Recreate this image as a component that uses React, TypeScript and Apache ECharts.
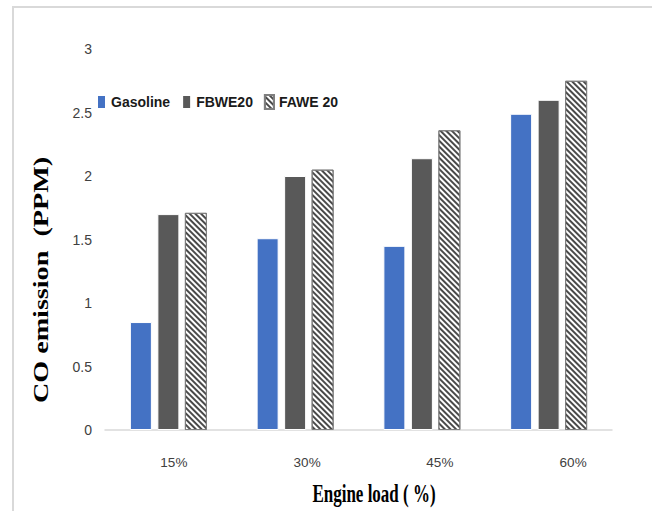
import React, { useEffect, useRef } from "react";
import * as echarts from "echarts";

const categories = ["15%", "30%", "45%", "60%"];
const gasoline = [0.85, 1.51, 1.45, 2.49];
const fbwe20 = [1.7, 2.0, 2.14, 2.6];
const fawe20 = [1.71, 2.05, 2.36, 2.75];
const seriesNames = ["Gasoline", "FBWE20", "FAWE 20"];
const yTicks = { min: 0, max: 3, interval: 0.5 };

const labelShift = [11, 24, 36, 49];

export default function App() {
  const ref = useRef<HTMLDivElement>(null);
  useEffect(() => {
    document.body.style.margin = "0";
    const chart = echarts.init(ref.current!, null, { renderer: "svg" });
    const tickFont = "'Liberation Sans', Arial, sans-serif";
    const rich: any = {};
    labelShift.forEach((p, i) => {
      rich["c" + i] = {
        padding: [0, 0, 0, p],
        fontFamily: tickFont,
        fontSize: 13.5,
        color: "#404040",
      };
    });
    chart.setOption({
      animation: false,
      backgroundColor: "#fff",
      grid: { left: 105, right: 40, top: 49, bottom: 81 },
      legend: {
        left: 91,
        top: 89,
        icon: "rect",
        itemWidth: 9,
        itemHeight: 14,
        itemGap: 11,
        textStyle: {
          fontFamily: tickFont,
          fontSize: 14,
          fontWeight: "bold",
          color: "#1a1a1a",
        },
        data: seriesNames,
      },
      xAxis: {
        type: "category",
        data: categories,
        axisLine: { lineStyle: { color: "#d9d9d9", width: 1.5 } },
        axisTick: { show: false },
        axisLabel: {
          margin: 25,
          fontFamily: tickFont,
          fontSize: 13.5,
          color: "#404040",
          formatter: (v: string, i: number) => `{c${i}|${v}}`,
          rich,
        },
      },
      yAxis: {
        type: "value",
        min: yTicks.min,
        max: yTicks.max,
        interval: yTicks.interval,
        axisLine: { show: false },
        axisTick: { show: false },
        splitLine: { show: false },
        axisLabel: {
          margin: 13,
          fontFamily: tickFont,
          fontSize: 14,
          color: "#404040",
        },
      },
      series: [
        {
          name: seriesNames[0],
          type: "bar",
          data: gasoline,
          barWidth: 22,
          barGap: "25%",
          itemStyle: { color: "#4472C4", borderColor: "#ffffff", borderWidth: 1 },
        },
        {
          name: seriesNames[1],
          type: "bar",
          data: fbwe20,
          barWidth: 22,
          barGap: "25%",
          itemStyle: { color: "#595959", borderColor: "#ffffff", borderWidth: 1 },
        },
        {
          name: seriesNames[2],
          type: "bar",
          data: fawe20,
          barWidth: 22,
          barGap: "25%",
          itemStyle: {
            color: "#ffffff",
            borderColor: "#7f7f7f",
            borderWidth: 1,
            decal: {
              symbol: "rect",
              symbolSize: 1,
              dashArrayX: [1, 0],
              dashArrayY: [1.7, 1.5],
              rotation: Math.PI / 4,
              color: "#4a4a4a",
            },
          },
        },
      ],
      graphic: [
        {
          type: "rect",
          shape: { x: 13, y: 7, width: 800, height: 700 },
          style: { fill: "none", stroke: "#d9d9d9", lineWidth: 2 },
          silent: true,
          z: -10,
        },
        {
          type: "text",
          x: 40,
          y: 280,
          rotation: Math.PI / 2,
          scaleX: 1.28,
          style: {
            text: "CO emission  (PPM)",
            font: "bold 22px 'Liberation Serif', 'Times New Roman', serif",
            fill: "#000",
            align: "center",
            verticalAlign: "middle",
          },
        },
        {
          type: "text",
          x: 374,
          y: 494,
          scaleY: 1.5,
          style: {
            text: "Engine load ( %)",
            font: "bold 17px 'Liberation Serif', 'Times New Roman', serif",
            fill: "#000",
            align: "center",
            verticalAlign: "middle",
          },
        },
      ],
    });
    return () => chart.dispose();
  }, []);
  return <div ref={ref} style={{ width: 652, height: 511 }} />;
}
